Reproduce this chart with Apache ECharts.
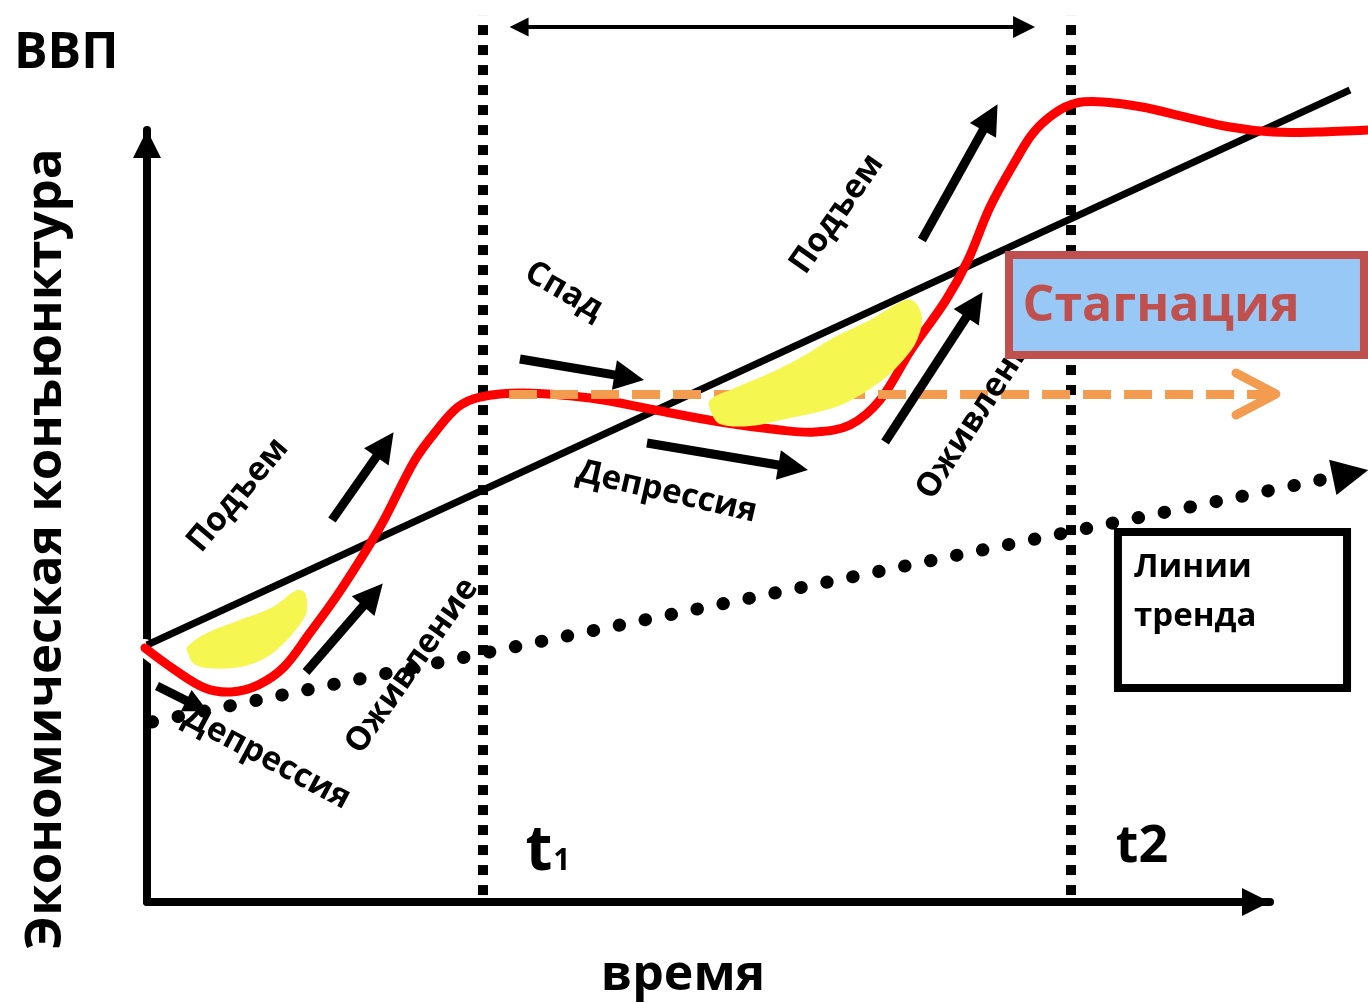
<!DOCTYPE html>
<html><head><meta charset="utf-8">
<script src="https://cdn.jsdelivr.net/npm/echarts@6/dist/echarts.min.js"></script>
<style>html,body{margin:0;padding:0;background:#fff}#c{width:1368px;height:1003px}</style>
</head><body><div id="c"></div>
<script>
// ---- data (time: 0..100 along the axis, level: 0..100 along the axis) ----
const cycleCurve = [[-0.18,32.9],[2.49,30.05],[5.16,27.72],[7.48,27.2],[9.88,28.1],[12.2,30.44],[14.5,34.84],[16.83,39.5],[19.15,44.7],[21.1,49.48],[23.86,57.25],[25.82,61.14],[27.69,64.12],[29.65,65.41],[33.57,65.93],[39.45,65.28],[45.24,63.73],[51.02,62.18],[56.37,61.14],[59.48,60.88],[62.6,61.79],[65.27,65.03],[68.03,71.5],[71.15,77.98],[73.11,83.16],[75.07,90.03],[77.38,96.11],[78.9,99.61],[80.86,102.2],[82.8,103.5],[85.13,103.63],[88.6,102.98],[92.5,101.68],[96.44,100.39],[100.27,99.74],[104.19,99.74],[108.73,100]];
const trendLine = [[0,33.29],[107.12,105.18]];
const longTrend = [[0.45,23.32],[107.16,55.47]];
const stagnationLine = [[32.24,65.8],[100.18,65.8]];
const stagnationHead = [[96.97,68.52],[100.53,65.8],[96.97,63.08]];
const periodMarks = [29.92, 82.28];
const periodSpan = [0.9, 114.9];
const cycleSpan = [[33.13,113.34],[78.1,113.34]];
const smallArrow = [[0.89,27.98],[4.45,25.39]];
const phaseArrows = [
  [[14.16,29.79],[20.12,39.8]],
  [[16.47,49.48],[21.19,59.26]],
  [[33.21,70.34],[42.94,67.95]],
  [[44.52,59.46],[57.54,56.28]],
  [[65.72,59.59],[73.68,77.37]],
  [[69.0,85.75],[75.09,101.65]]
];
const highlightLeft = [[3.56,33.03],[5.34,34.84],[8.28,36.53],[11.22,38.21],[13.36,40.41],[14.07,40.03],[14.25,37.82],[13.89,36.53],[12.47,33.94],[10.69,31.74],[8.28,30.44],[5.34,30.31],[4.1,30.96],[3.65,32.25]];
const highlightRight = [[50.13,65.03],[52.36,66.58],[55.48,68.52],[58.15,70.47],[61.09,73.06],[64.38,75.39],[67.5,77.98],[68.39,77.72],[69.01,75.65],[68.57,72.8],[67.5,70.47],[65.72,67.88],[63.05,65.28],[61.09,63.99],[57.26,62.69],[53.7,61.66],[51.02,61.92],[50.22,63.47]];
const stagnationBox = [[76.76,83.81],[108.37,70.85]];
const trendBox = [[86.46,47.93],[106.86,27.72]];
const phaseLabels = [
  {text:'Подъем', at:[8.1,52.72], rot:50},
  {text:'Депрессия', at:[10.69,18.65], rot:-28},
  {text:'Оживление', at:[23.6,30.57], rot:55},
  {text:'Спад', at:[37.13,79.15], rot:-30},
  {text:'Депрессия', at:[46.3,53.11], rot:-13},
  {text:'Подъем', at:[61.44,89.12], rot:55},
  {text:'Оживление', at:[74.18,63.73], rot:57}
];
const markLabels = [
  {text:'t', at:[34.91,6.48], size:62},
  {text:'1', at:[36.95,5.31], size:30},
  {text:'t2', at:[88.6,7.12], size:52}
];
const boxTexts = [
  {text:'Стагнация', at:[90.3,77.07], size:50, color:'#c0504d', align:'center'},
  {text:'Линии', at:[87.89,43.26], size:33, color:'#000', align:'left'},
  {text:'тренда', at:[87.89,36.92], size:33, color:'#000', align:'left'}
];

const FONT = '"Open Sans", "Noto Sans", sans-serif';
const chart = echarts.init(document.getElementById('c'), null, {renderer:'canvas'});

function textItem(a, size, color, align) {
  return function (params, api) {
    const p = api.coord(a.at);
    return {type:'text', x:p[0], y:p[1], rotation:(a.rot||0)*Math.PI/180,
      style:{text:a.text, fontSize:size, fontWeight:'bold', fontFamily:FONT, fill:color, align:align, verticalAlign:'middle'}};
  };
}
function curve(points, color, width, z) {
  return {type:'custom', z:z, silent:true, data:[0],
    renderItem:function(params, api){
      return {type:'polyline', shape:{points:points.map(function(d){return api.coord(d);}), smooth:0.35},
        style:{stroke:color, lineWidth:width, fill:null, lineCap:'round', lineJoin:'round'}};
    }};
}
function segs(list, style, symbol, symbolSize, z, poly) {
  return {type:'lines', coordinateSystem:'cartesian2d', polyline:!!poly, z:z, silent:true, clip:false,
    data:list.map(function(c){return {coords:c};}), symbol:symbol||'none', symbolSize:symbolSize||0,
    lineStyle:Object.assign({opacity:1, curveness:0}, style)};
}

const series = [];
// white halo under red curve
series.push(curve(cycleCurve, '#ffffff', 18, 4));
// trend line
series.push(segs([trendLine], {color:'#000', width:7}, 'none', 0, 5));
// period markers
series.push(segs(periodMarks.map(function(t){return [[t,periodSpan[0]],[t,periodSpan[1]]];}), {color:'#000', width:10, type:[10,10]}, 'none', 0, 5));
// long-term dotted trend with arrow
series.push(segs([longTrend], {color:'#000', width:13, type:[0.5,26], cap:'round'}, ['none','triangle'], [40,36], 5));
// red business cycle curve
series.push(curve(cycleCurve, '#ff0000', 9, 6));
// orange dashed stagnation line
series.push(segs([stagnationLine], {color:'#f39b4f', width:9, type:[28,13]}, 'none', 0, 7));
series.push(segs([stagnationHead], {color:'#f39b4f', width:9, cap:'round', join:'round'}, 'none', 0, 7, true));
// yellow highlights
series.push({type:'custom', z:8, silent:true, data:[0,1],
  renderItem:function(params, api){
    const pts = (params.dataIndex === 0 ? highlightLeft : highlightRight).map(function(d){return api.coord(d);});
    return {type:'polygon', shape:{points:pts, smooth:0.35}, style:{fill:'#f6f650', stroke:'none'}};
  }});
// phase arrows
series.push(segs(phaseArrows, {color:'#000', width:9}, ['none','triangle'], [28,30], 9));
series.push(segs([smallArrow], {color:'#000', width:9}, ['none','triangle'], [24,24], 9));
series.push(segs([cycleSpan], {color:'#000', width:4}, ['triangle','triangle'], [19,22], 9));
// phase labels
series.push({type:'custom', z:10, silent:true, data:phaseLabels.map(function(_,i){return i;}),
  renderItem:function(params, api){ return textItem(phaseLabels[params.dataIndex], 33, '#000', 'center')(params, api); }});
series.push({type:'custom', z:10, silent:true, data:markLabels.map(function(_,i){return i;}),
  renderItem:function(params, api){ const a = markLabels[params.dataIndex]; return textItem(a, a.size, '#000', 'center')(params, api); }});
// boxes
series.push({type:'custom', z:11, silent:true, data:[0,1],
  renderItem:function(params, api){
    const b = params.dataIndex === 0 ? stagnationBox : trendBox;
    const p1 = api.coord(b[0]), p2 = api.coord(b[1]);
    return {type:'rect', shape:{x:p1[0], y:p1[1], width:p2[0]-p1[0], height:p2[1]-p1[1]},
      style: params.dataIndex === 0 ? {fill:'#98c8f6', stroke:'#c0504d', lineWidth:8} : {fill:'#ffffff', stroke:'#000', lineWidth:8}};
  }});
series.push({type:'custom', z:12, silent:true, data:boxTexts.map(function(_,i){return i;}),
  renderItem:function(params, api){ const a = boxTexts[params.dataIndex]; return textItem(a, a.size, a.color, a.align)(params, api); }});

chart.setOption({
  animation:false,
  grid:{left:147, right:98, top:130, bottom:101},
  xAxis:{type:'value', min:0, max:100, axisLine:{show:true, onZero:false, lineStyle:{color:'#000', width:8}, symbol:['none','triangle'], symbolSize:[28,28], symbolOffset:[0,-14]}, axisTick:{show:false}, axisLabel:{show:false}, splitLine:{show:false}},
  yAxis:{type:'value', min:0, max:100, axisLine:{show:true, onZero:false, lineStyle:{color:'#000', width:8}, symbol:['none','triangle'], symbolSize:[28,28], symbolOffset:[0,-14]}, axisTick:{show:false}, axisLabel:{show:false}, splitLine:{show:false}},
  graphic:[
    {type:'text', x:14, y:54, style:{text:'ВВП', fontSize:50, fontWeight:'bold', fontFamily:FONT, fill:'#000', align:'left', verticalAlign:'middle'}},
    {type:'text', x:46, y:549, rotation:Math.PI/2, style:{text:'Экономическая конъюнктура', fontSize:51, fontWeight:'bold', fontFamily:FONT, fill:'#000', align:'center', verticalAlign:'middle'}},
    {type:'text', x:683, y:976, style:{text:'время', fontSize:50, fontWeight:'bold', fontFamily:FONT, fill:'#000', align:'center', verticalAlign:'middle'}}
  ],
  series:series
});
</script>
</body></html>
